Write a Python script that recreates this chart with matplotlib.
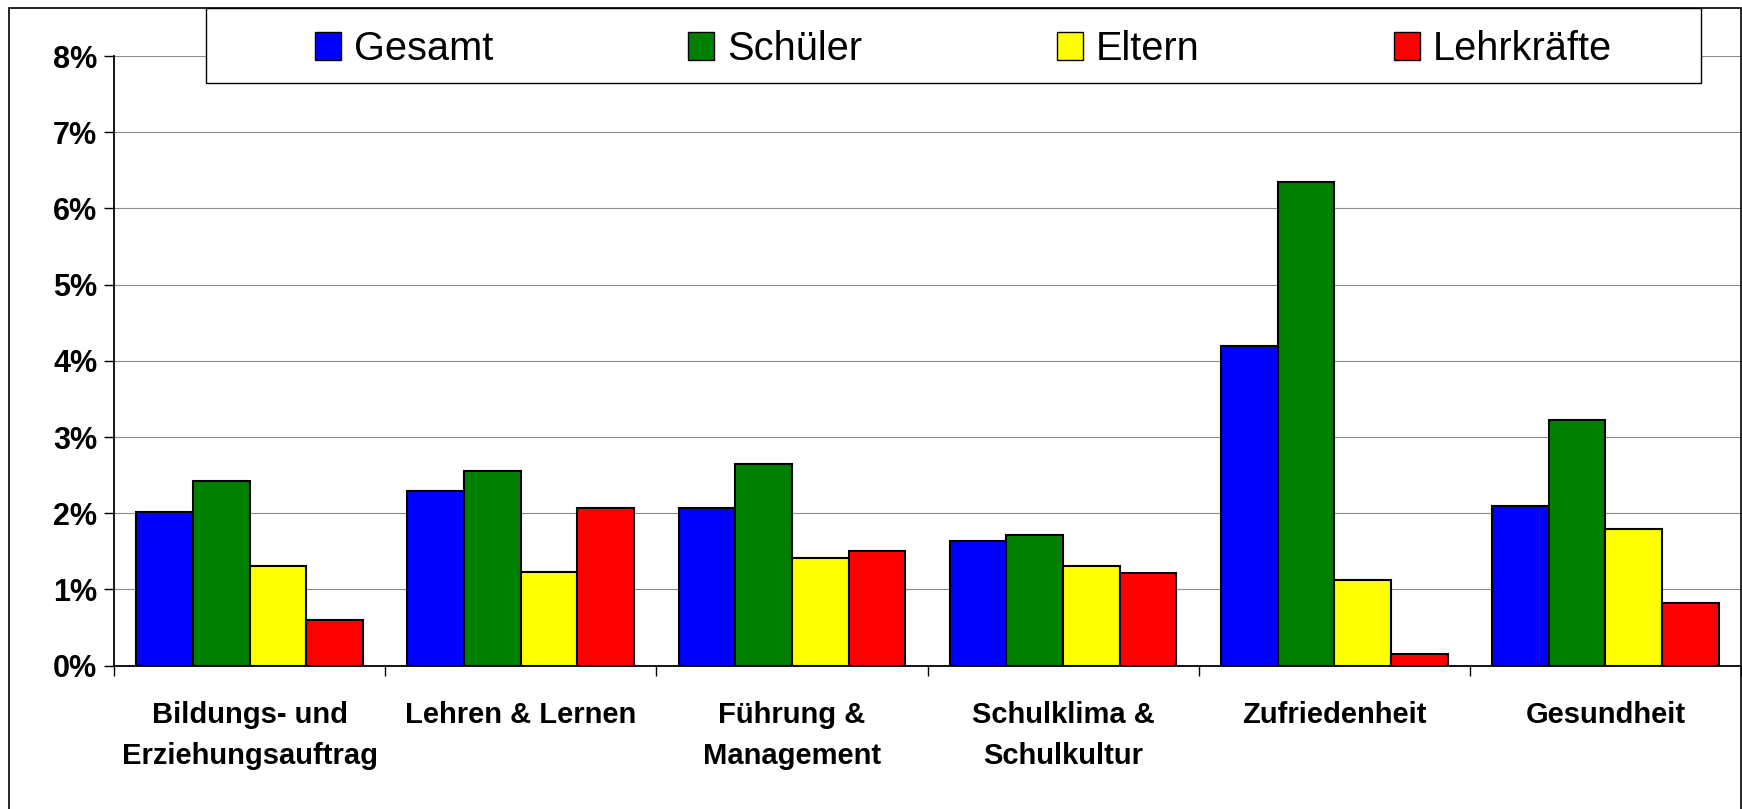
# -*- coding: utf-8 -*-

# ---------------------
# Thrid-party libraries
# ---------------------

import matplotlib

matplotlib.use("Agg")
import matplotlib.pyplot as plt
from matplotlib.patches import Patch, Rectangle
from matplotlib.ticker import FuncFormatter, FixedLocator

# ----------------
# Module constants
# ----------------

W, H = 1742, 809

CATEGORIES = [
    "Bildungs- und\nErziehungsauftrag",
    "Lehren & Lernen",
    "Führung &\nManagement",
    "Schulklima &\nSchulkultur",
    "Zufriedenheit",
    "Gesundheit",
]
SERIES = ["Gesamt", "Schüler", "Eltern", "Lehrkräfte"]
COLORS = ["#0000FF", "#008000", "#FFFF00", "#FF0000"]

# values in percent
GESAMT = [2.02, 2.29, 2.07, 1.64, 4.20, 2.10]
SCHUELER = [2.43, 2.56, 2.64, 1.72, 6.35, 3.22]
ELTERN = [1.31, 1.23, 1.41, 1.31, 1.13, 1.79]
LEHRKRAEFTE = [0.60, 2.07, 1.51, 1.21, 0.16, 0.82]

Y_TICKS = [0, 1, 2, 3, 4, 5, 6, 7, 8]

plt.rcParams["font.family"] = ["Liberation Sans", "DejaVu Sans"]


def fx(px):
    return px / W


def fy(py):
    return 1 - py / H


# ------------------
# Auxiliary fnctions
# ------------------

def plot_bars(axes, values_list):
    n = len(values_list)
    bar_w = 0.209
    for k, (values, color, label) in enumerate(zip(values_list, COLORS, SERIES)):
        xs = [i + 0.5 + (k - (n - 1) / 2) * bar_w for i in range(len(values))]
        axes.bar(xs, values, width=bar_w, color=color, edgecolor="black",
                 linewidth=1.5, label=label, zorder=3)


def main():
    fig = plt.figure(figsize=(W / 100, H / 100), dpi=100)
    axes = fig.add_axes([fx(114), fy(665.7), fx(1741) - fx(114), (665.7 - 56) / H])

    plot_bars(axes, [GESAMT, SCHUELER, ELTERN, LEHRKRAEFTE])

    axes.set_xlim(0, len(CATEGORIES))
    axes.set_ylim(0, 8)
    axes.set_yticks(Y_TICKS)
    axes.yaxis.set_major_formatter(FuncFormatter(lambda v, p: f"{v:.0f}%"))
    axes.tick_params(axis="y", direction="out", length=7, width=1, pad=5,
                     labelsize=22)
    for lbl in axes.get_yticklabels():
        lbl.set_fontweight("bold")

    # category boundaries as major ticks, labels at centres on minor ticks
    axes.xaxis.set_major_locator(FixedLocator(range(len(CATEGORIES) + 1)))
    axes.xaxis.set_minor_locator(FixedLocator([i + 0.5 for i in range(len(CATEGORIES))]))
    axes.set_xticklabels([], minor=False)
    axes.set_xticklabels(CATEGORIES, minor=True, fontsize=21, fontweight="bold",
                         linespacing=1.6)
    axes.tick_params(axis="x", which="major", direction="out", length=7, width=1)
    axes.tick_params(axis="x", which="minor", length=0, pad=25.5)

    axes.grid(True, axis="y", color="#8c8c8c", linewidth=0.8, zorder=0)
    axes.set_axisbelow(True)
    for side in ("top", "right"):
        axes.spines[side].set_visible(False)
    for side in ("left", "bottom"):
        axes.spines[side].set_linewidth(1.3)
        axes.spines[side].set_zorder(4)

    # outer chart frame
    fig.add_artist(Rectangle((fx(9), fy(815)), fx(1741) - fx(9), (815 - 8) / H,
                             transform=fig.transFigure, fill=False,
                             edgecolor="black", linewidth=1.2, zorder=5))

    # legend box
    fig.add_artist(Rectangle((fx(206), fy(83)), fx(1701) - fx(206), (83 - 8) / H,
                             transform=fig.transFigure, facecolor="white",
                             edgecolor="black", linewidth=1.0, zorder=5))
    handles = [Patch(facecolor=c, edgecolor="black", linewidth=1.0) for c in COLORS]
    leg = fig.legend(handles, SERIES, loc="center", ncol=4,
                     bbox_to_anchor=(fx(963.5), fy(49)),
                     bbox_transform=fig.transFigure, frameon=False,
                     fontsize=28.6, handlelength=0.655, handleheight=0.7,
                     handletextpad=0.33, columnspacing=4.9, borderpad=0)
    leg.set_zorder(6)

    fig.savefig("out.png", dpi=100)


if __name__ == "__main__":
    main()
